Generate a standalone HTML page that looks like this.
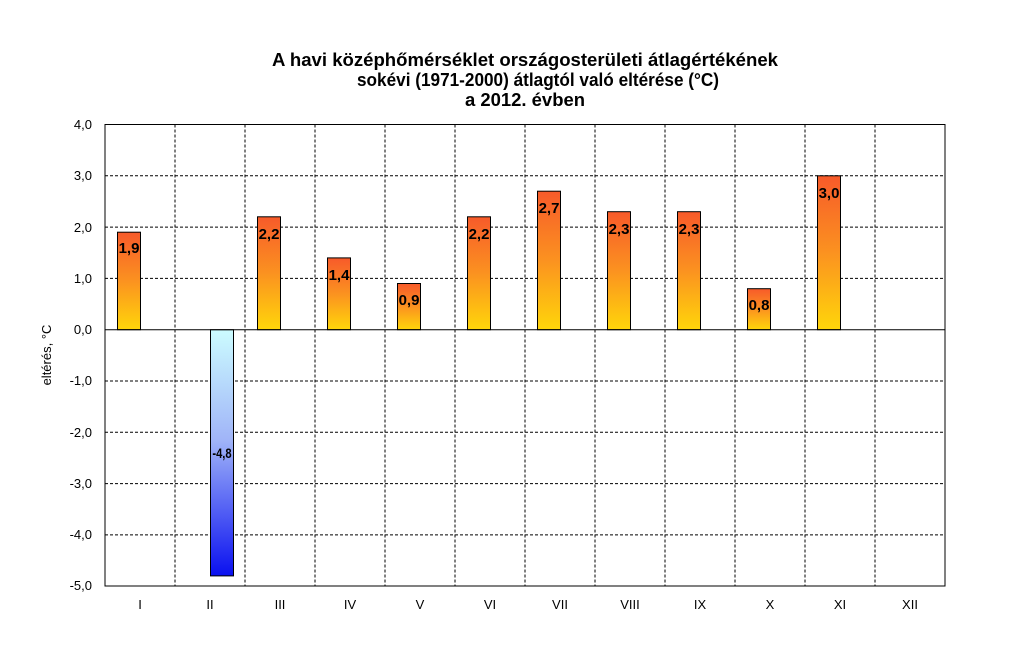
<!DOCTYPE html>
<html><head><meta charset="utf-8"><style>
body{margin:0;background:#fff;}
svg text{font-family:"Liberation Sans",Arial,sans-serif;}
</style></head><body>
<svg width="1013" height="640" viewBox="0 0 1013 640" xmlns="http://www.w3.org/2000/svg">
<defs>
<linearGradient id="o" x1="0" y1="0" x2="0" y2="1"><stop offset="0" stop-color="#f75a2a"/><stop offset="0.5" stop-color="#fb9220"/><stop offset="1" stop-color="#ffd60a"/></linearGradient>
<linearGradient id="b" x1="0" y1="0" x2="0" y2="1"><stop offset="0" stop-color="#ccfcff"/><stop offset="0.45" stop-color="#a0b4f8"/><stop offset="1" stop-color="#0a10f0"/></linearGradient>
</defs>
<g font-weight="bold" font-size="18" text-anchor="middle" fill="#000">
<text x="525" y="66" textLength="506" lengthAdjust="spacingAndGlyphs">A havi középhőmérséklet országosterületi átlagértékének</text>
<text x="538" y="86" textLength="362" lengthAdjust="spacingAndGlyphs">sokévi (1971-2000) átlagtól való eltérése (°C)</text>
<text x="525" y="106" textLength="120" lengthAdjust="spacingAndGlyphs">a 2012. évben</text>
</g>
<g stroke="#000" stroke-width="1" stroke-dasharray="3,2">
<line x1="105" x2="945" y1="175.8" y2="175.8"/><line x1="105" x2="945" y1="227.1" y2="227.1"/><line x1="105" x2="945" y1="278.4" y2="278.4"/>
<line x1="105" x2="945" y1="381" y2="381"/><line x1="105" x2="945" y1="432.3" y2="432.3"/><line x1="105" x2="945" y1="483.6" y2="483.6"/><line x1="105" x2="945" y1="534.9" y2="534.9"/>
<line x1="175" x2="175" y1="124.5" y2="586"/><line x1="245" x2="245" y1="124.5" y2="586"/><line x1="315" x2="315" y1="124.5" y2="586"/><line x1="385" x2="385" y1="124.5" y2="586"/><line x1="455" x2="455" y1="124.5" y2="586"/><line x1="525" x2="525" y1="124.5" y2="586"/><line x1="595" x2="595" y1="124.5" y2="586"/><line x1="665" x2="665" y1="124.5" y2="586"/><line x1="735" x2="735" y1="124.5" y2="586"/><line x1="805" x2="805" y1="124.5" y2="586"/><line x1="875" x2="875" y1="124.5" y2="586"/>
</g>
<rect x="105" y="124.5" width="840" height="461.5" fill="none" stroke="#000"/>
<g stroke="#000" stroke-width="1">
<rect x="117.5" y="232.2" width="23" height="97.5" fill="url(#o)"/>
<rect x="210.5" y="329.7" width="23" height="246.2" fill="url(#b)"/>
<rect x="257.5" y="216.8" width="23" height="112.9" fill="url(#o)"/>
<rect x="327.5" y="257.9" width="23" height="71.8" fill="url(#o)"/>
<rect x="397.5" y="283.5" width="23" height="46.2" fill="url(#o)"/>
<rect x="467.5" y="216.8" width="23" height="112.9" fill="url(#o)"/>
<rect x="537.5" y="191.2" width="23" height="138.5" fill="url(#o)"/>
<rect x="607.5" y="211.7" width="23" height="118" fill="url(#o)"/>
<rect x="677.5" y="211.7" width="23" height="118" fill="url(#o)"/>
<rect x="747.5" y="288.7" width="23" height="41" fill="url(#o)"/>
<rect x="817.5" y="175.8" width="23" height="153.9" fill="url(#o)"/>
<line x1="105" x2="945" y1="329.7" y2="329.7"/>
</g>
<g font-weight="bold" font-size="15" text-anchor="middle" fill="#000">
<text x="129" y="253">1,9</text><text x="269" y="239">2,2</text><text x="339" y="280">1,4</text><text x="409" y="305">0,9</text>
<text x="479" y="239">2,2</text><text x="549" y="213">2,7</text><text x="619" y="234">2,3</text><text x="689" y="234">2,3</text>
<text x="759" y="310">0,8</text><text x="829" y="198">3,0</text>
<text x="222" y="458" font-size="14" transform="translate(222 0) scale(0.8 1) translate(-222 0)">-4,8</text>
</g>
<g font-size="13" text-anchor="end" fill="#000">
<text x="92" y="129">4,0</text><text x="92" y="180">3,0</text><text x="92" y="232">2,0</text><text x="92" y="283">1,0</text><text x="92" y="334">0,0</text>
<text x="92" y="385">-1,0</text><text x="92" y="437">-2,0</text><text x="92" y="488">-3,0</text><text x="92" y="539">-4,0</text><text x="92" y="590">-5,0</text>
</g>
<g font-size="13" text-anchor="middle" fill="#000">
<text x="140" y="609">I</text><text x="210" y="609">II</text><text x="280" y="609">III</text><text x="350" y="609">IV</text><text x="420" y="609">V</text><text x="490" y="609">VI</text>
<text x="560" y="609">VII</text><text x="630" y="609">VIII</text><text x="700" y="609">IX</text><text x="770" y="609">X</text><text x="840" y="609">XI</text><text x="910" y="609">XII</text>
</g>
<text x="0" y="0" font-size="13" text-anchor="middle" transform="translate(51 355) rotate(-90)">eltérés, °C</text>
</svg>
</body></html>
